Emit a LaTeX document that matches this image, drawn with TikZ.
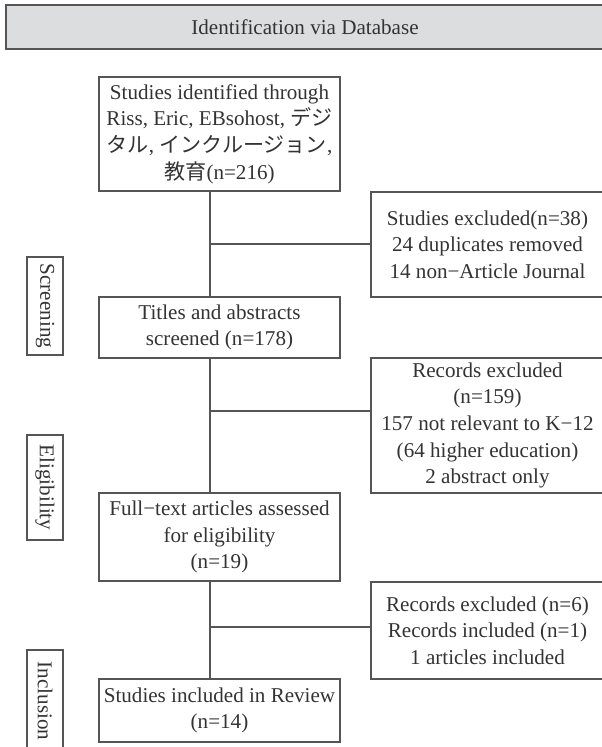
\documentclass[tikz,border=0pt]{standalone}
\usepackage{fontspec}
\setmainfont{Liberation Serif}
\newfontfamily\jpfont{Noto Sans CJK JP}

\definecolor{linegray}{HTML}{555555}
\definecolor{headfill}{HTML}{DCDDDF}
\definecolor{textgray}{HTML}{333333}

\begin{document}
\begin{tikzpicture}[
		box/.style = {draw = linegray, line width = 0.6pt, rectangle, align = center, text = textgray, font = \fontsize{12}{15.2}\selectfont, inner sep = 0pt, minimum width = 4.82cm},
		exclbox/.style = {box, minimum width = 4.66cm},
		stage/.style = {box, rotate = -90, minimum height = 0.72cm},
		header/.style = {box, fill = headfill, line width = 0.8pt, minimum width = 11.96cm, minimum height = 0.88cm},
		link/.style = {draw = linegray, line width = 0.6pt}
	]
		\useasboundingbox (0,0) rectangle (12.04,-14.94);
		\clip (0,0) rectangle (12.04,-14.94);

		\node [header] (db) at (6.10,-0.54) {Identification via Database};

		\node [box, minimum height = 2.28cm] (ident) at (4.39,-2.68) {Studies identified through\\ Riss, Eric, EBsohost, {\jpfont デジ}\\ {\jpfont タル}, {\jpfont インクルージョン},\\ {\jpfont 教育}(n=216)};
		\node [box, minimum height = 1.22cm] (titles) at (4.39,-6.55) {Titles and abstracts\\ screened (n=178)};
		\node [box, minimum height = 1.76cm] (full) at (4.39,-10.74) {Full−text articles assessed\\ for eligibility\\ (n=19)};
		\node [box, minimum height = 1.26cm] (incl) at (4.39,-14.21) {Studies included in Review\\ (n=14)};

		\node [exclbox, minimum height = 2.10cm] (excl1) at (9.75,-4.89) {Studies excluded(n=38)\\ 24 duplicates removed\\ 14 non−Article Journal};
		\node [exclbox, minimum height = 2.70cm] (excl2) at (9.75,-8.51) {Records excluded\\ (n=159)\\ 157 not relevant to K−12\\ (64 higher education)\\ 2 abstract only};
		\node [exclbox, minimum height = 1.94cm] (excl3) at (9.75,-12.61) {Records excluded (n=6)\\ Records included (n=1)\\ 1 articles included};

		\node [stage, minimum width = 1.96cm] (screening) at (0.90,-6.12) {Screening};
		\node [stage, minimum width = 2.10cm] (eligibility) at (0.90,-9.75) {Eligibility};
		\node [stage, minimum width = 2.04cm] (inclusion) at (0.90,-14.02) {Inclusion};

		\coordinate (spine) at (4.20,0);
		\coordinate (b1) at (4.20,-4.88);
		\coordinate (b2) at (4.20,-8.22);
		\coordinate (b3) at (4.20,-12.54);

		\draw [link] (ident.south -| spine) -- (titles.north -| spine);
		\draw [link] (titles.south -| spine) -- (full.north -| spine);
		\draw [link] (full.south -| spine) -- (incl.north -| spine);
		\draw [link] (b1) -- (b1 -| excl1.west);
		\draw [link] (b2) -- (b2 -| excl2.west);
		\draw [link] (b3) -- (b3 -| excl3.west);
	\end{tikzpicture}
\end{document}
